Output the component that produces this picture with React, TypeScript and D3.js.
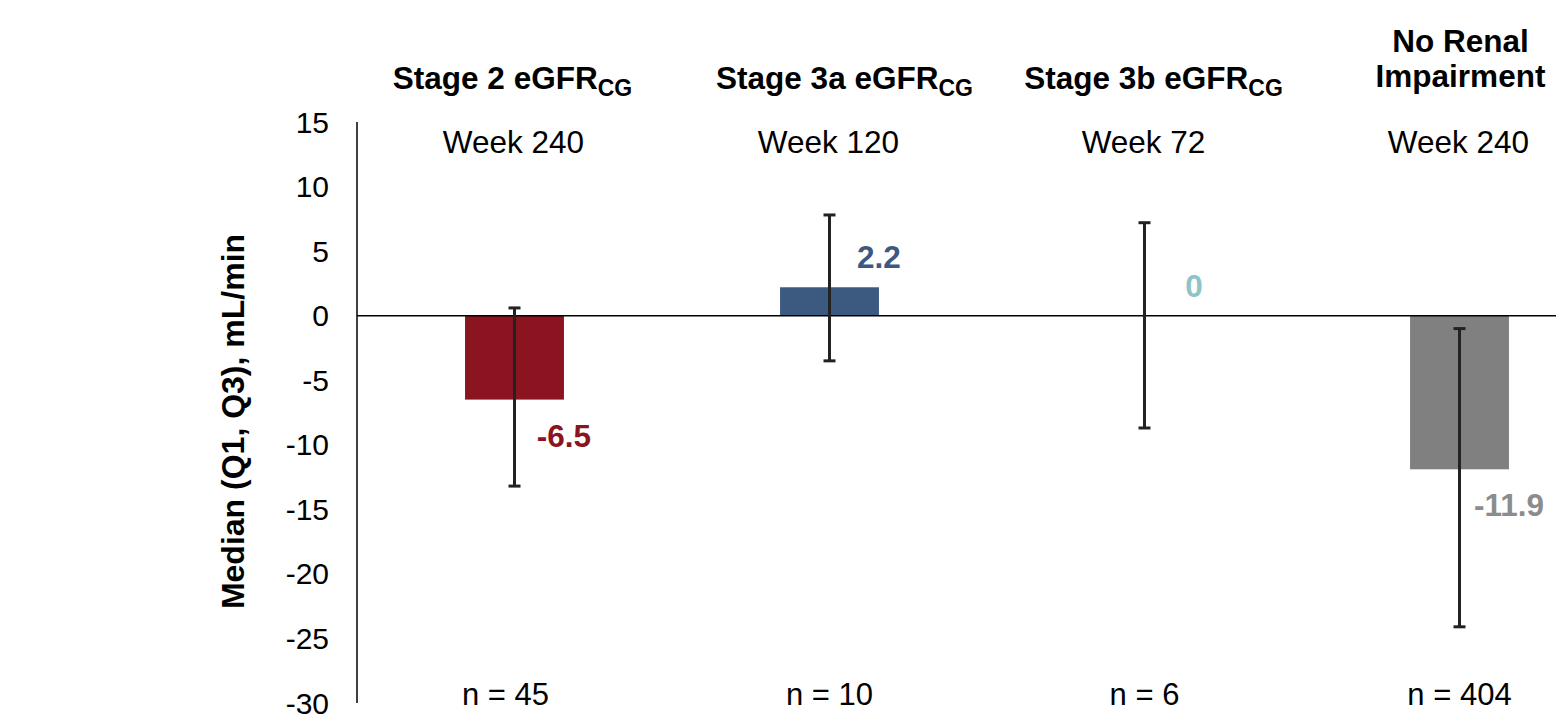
import React from "react";
import * as d3 from "d3";

const categories = ["Stage 2", "Stage 3a", "Stage 3b", "No Renal Impairment"];
const titleMain = ["Stage 2 eGFR", "Stage 3a eGFR", "Stage 3b eGFR", ""];
const titleSub = ["CG", "CG", "CG", ""];
const titleLines = [[], [], [], ["No Renal", "Impairment"]];
const weeks = ["Week 240", "Week 120", "Week 72", "Week 240"];
const medians = [-6.5, 2.2, 0, -11.9];
const q1 = [-13.2, -3.5, -8.7, -24.1];
const q3 = [0.6, 7.8, 7.2, -1.0];
const nLabels = ["n = 45", "n = 10", "n = 6", "n = 404"];
const barColors = ["#8B1421", "#3C5A80", "#8EC4C8", "#808080"];
const labelColors = ["#8B1421", "#3C5A80", "#8EC4C8", "#8C8C8C"];
const yTicks = [15, 10, 5, 0, -5, -10, -15, -20, -25, -30];
const yLabel = "Median (Q1, Q3), mL/min";

// small horizontal nudges of header / footer text boxes (layout only)
const titleNudge = [-2, 15, 9, 1];
const nNudge = [-9, 0, 0, 0];

const W = 1556;
const H = 719;
const FONT = "'Liberation Sans', Arial, sans-serif";

export default function App() {
  const x = d3
    .scaleBand<string>()
    .domain(categories)
    .range([357, 1617])
    .paddingInner(0.686)
    .paddingOuter(0.343);
  const y = d3.scaleLinear().domain([-30, 15]).range([703, 122]);
  const bw = x.bandwidth();

  return (
    <div style={{ position: "fixed", left: 0, top: 0 }}>
      <svg width={W} height={H} style={{ display: "block", background: "#fff" }} fontFamily={FONT}>
        {/* bars */}
        {categories.map((c, i) => {
          const v = medians[i];
          const y0 = y(0);
          const y1 = y(v);
          return (
            <rect
              key={"b" + c}
              x={x(c)!}
              y={Math.min(y0, y1)}
              width={bw}
              height={Math.abs(y1 - y0)}
              fill={barColors[i]}
            />
          );
        })}
        {/* zero line */}
        <line x1={357} x2={W} y1={y(0)} y2={y(0)} stroke="#000" strokeWidth={1.5} />
        {/* y axis line */}
        <line x1={357} x2={357} y1={y(15)} y2={y(-30)} stroke="#000" strokeWidth={1.5} />
        {/* error bars */}
        {categories.map((c, i) => {
          const cx = x(c)! + bw / 2;
          return (
            <g key={"e" + c} stroke="#222" strokeWidth={3}>
              <line x1={cx} x2={cx} y1={y(q3[i])} y2={y(q1[i])} />
              <line x1={cx - 6} x2={cx + 6} y1={y(q3[i])} y2={y(q3[i])} />
              <line x1={cx - 6} x2={cx + 6} y1={y(q1[i])} y2={y(q1[i])} />
            </g>
          );
        })}
        {/* value labels */}
        {categories.map((c, i) => {
          const v = medians[i];
          const lx = x(c)! + bw;
          const ly = v < 0 ? y(v) + 47 : y(v) - 19;
          return (
            <text
              key={"v" + c}
              x={lx}
              y={ly}
              textAnchor="middle"
              fontWeight="bold"
              fontSize={31.5}
              fill={labelColors[i]}
            >
              {String(v)}
            </text>
          );
        })}
        {/* y ticks */}
        {yTicks.map((t) => (
          <text key={"t" + t} x={329} y={y(t)} dy="0.35em" textAnchor="end" fontSize={30} fill="#000">
            {String(t)}
          </text>
        ))}
        {/* y label */}
        <text
          transform={`translate(244, ${(y(15) + y(-30)) / 2 + 9}) rotate(-90)`}
          textAnchor="middle"
          fontWeight="bold"
          fontSize={32}
          fill="#000"
        >
          {yLabel}
        </text>
        {/* titles */}
        {categories.map((c, i) => {
          const cx = x(c)! + bw / 2 + titleNudge[i];
          if (titleLines[i].length) {
            return (
              <g key={"ti" + c}>
                {titleLines[i].map((l, j) => (
                  <text
                    key={l}
                    x={cx}
                    y={52 + j * 35}
                    textAnchor="middle"
                    fontWeight="bold"
                    fontSize={31.5}
                    fill="#000"
                  >
                    {l}
                  </text>
                ))}
              </g>
            );
          }
          return (
            <text key={"ti" + c} x={cx} y={89} textAnchor="middle" fontWeight="bold" fontSize={31.5} fill="#000">
              {titleMain[i]}
              <tspan dy={7} fontSize={23}>
                {titleSub[i]}
              </tspan>
            </text>
          );
        })}
        {/* weeks */}
        {categories.map((c, i) => (
          <text key={"w" + c} x={x(c)! + bw / 2 - 1} y={152.5} textAnchor="middle" fontSize={31.5} fill="#000">
            {weeks[i]}
          </text>
        ))}
        {/* n labels */}
        {categories.map((c, i) => (
          <text
            key={"n" + c}
            x={x(c)! + bw / 2 + nNudge[i]}
            y={705}
            textAnchor="middle"
            fontSize={31}
            fill="#000"
          >
            {nLabels[i]}
          </text>
        ))}
      </svg>
    </div>
  );
}
